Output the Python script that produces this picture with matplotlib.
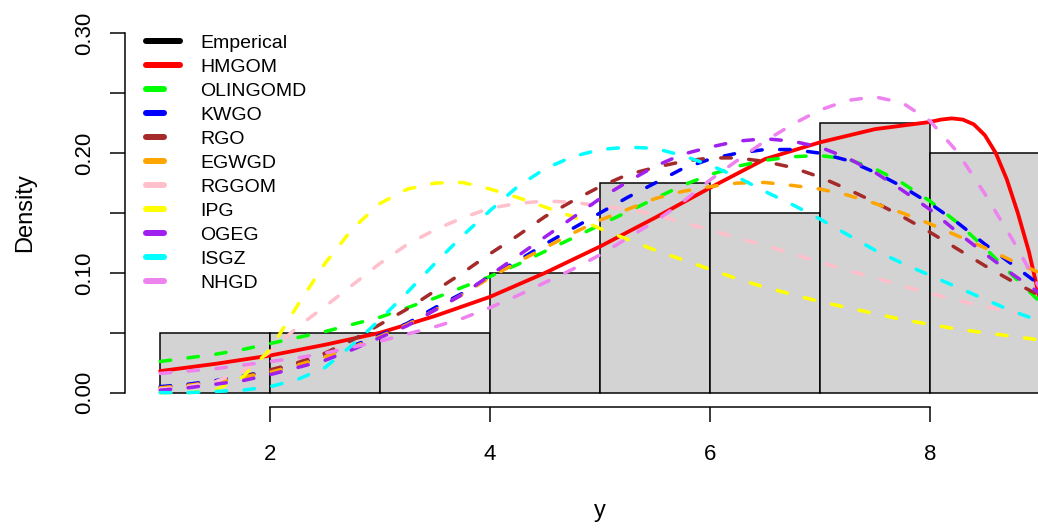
import matplotlib.pyplot as plt
from matplotlib.lines import Line2D

plt.rcParams['font.family'] = ['Liberation Sans', 'DejaVu Sans']

# histogram of y (density scale), unit-width bins
bin_left = [1, 2, 3, 4, 5, 6, 7, 8]
density = [0.05, 0.05, 0.05, 0.10, 0.175, 0.15, 0.225, 0.20]

# fitted densities evaluated on a common grid
xg = [1.0, 1.25, 1.5, 1.75, 2.0, 2.25, 2.5, 2.75, 3.0, 3.25, 3.5, 3.75, 4.0,
      4.25, 4.5, 4.75, 5.0, 5.25, 5.5, 5.75, 6.0, 6.25, 6.5, 6.75, 7.0,
      7.25, 7.5, 7.75, 8.0, 8.25, 8.5, 8.75, 9.0]

olingomd = [0.026, 0.029, 0.032, 0.036, 0.041, 0.046, 0.051, 0.057, 0.063,
            0.071, 0.079, 0.088, 0.097, 0.107, 0.118, 0.129, 0.140, 0.151,
            0.162, 0.173, 0.182, 0.189, 0.194, 0.197, 0.198, 0.195, 0.187,
            0.175, 0.160, 0.142, 0.121, 0.098, 0.076]
kwgo = [0.005, 0.007, 0.010, 0.014, 0.018, 0.024, 0.031, 0.039, 0.048, 0.058,
        0.071, 0.083, 0.097, 0.110, 0.124, 0.137, 0.150, 0.163, 0.175, 0.187,
        0.195, 0.200, 0.203, 0.203, 0.200, 0.194, 0.184, 0.172, 0.158, 0.142,
        0.124, 0.107, 0.090]
rgo = [0.004, 0.006, 0.009, 0.013, 0.019, 0.025, 0.033, 0.044, 0.057, 0.070,
       0.085, 0.100, 0.116, 0.131, 0.147, 0.160, 0.172, 0.182, 0.188, 0.193,
       0.196, 0.196, 0.193, 0.188, 0.180, 0.170, 0.159, 0.147, 0.134, 0.120,
       0.106, 0.093, 0.081]
egwgd = [0.004, 0.006, 0.009, 0.013, 0.017, 0.023, 0.030, 0.038, 0.047, 0.057,
         0.069, 0.082, 0.096, 0.109, 0.121, 0.133, 0.144, 0.153, 0.162, 0.168,
         0.172, 0.175, 0.1755, 0.173, 0.170, 0.165, 0.158, 0.150, 0.141,
         0.131, 0.121, 0.110, 0.100]
rggom = [0.003, 0.005, 0.009, 0.018, 0.034, 0.055, 0.072, 0.090, 0.108, 0.124,
         0.136, 0.146, 0.154, 0.158, 0.160, 0.159, 0.156, 0.153, 0.149, 0.142,
         0.136, 0.129, 0.123, 0.116, 0.109, 0.102, 0.096, 0.089, 0.083, 0.077,
         0.072, 0.067, 0.062]
ipg = [0.000, 0.000, 0.002, 0.013, 0.036, 0.073, 0.108, 0.137, 0.158, 0.170,
       0.175, 0.1755, 0.170, 0.163, 0.155, 0.147, 0.137, 0.128, 0.119, 0.111,
       0.103, 0.095, 0.088, 0.082, 0.076, 0.071, 0.066, 0.061, 0.057, 0.053,
       0.050, 0.047, 0.044]
ogeg = [0.002, 0.004, 0.007, 0.010, 0.015, 0.021, 0.027, 0.036, 0.046, 0.056,
        0.069, 0.082, 0.098, 0.114, 0.130, 0.146, 0.162, 0.176, 0.189, 0.199,
        0.205, 0.210, 0.212, 0.210, 0.205, 0.196, 0.184, 0.169, 0.153, 0.134,
        0.116, 0.099, 0.083]
isgz = [0.000, 0.000, 0.001, 0.002, 0.005, 0.011, 0.021, 0.040, 0.061, 0.084,
        0.108, 0.131, 0.152, 0.172, 0.187, 0.197, 0.203, 0.205, 0.204, 0.198,
        0.190, 0.180, 0.168, 0.157, 0.145, 0.132, 0.119, 0.108, 0.098, 0.088,
        0.078, 0.068, 0.060]
nhgd = [0.016, 0.018, 0.020, 0.023, 0.026, 0.029, 0.033, 0.038, 0.043, 0.049,
        0.055, 0.062, 0.071, 0.081, 0.092, 0.103, 0.115, 0.129, 0.143, 0.159,
        0.1775, 0.194, 0.210, 0.224, 0.236, 0.244, 0.247, 0.242, 0.227, 0.201,
        0.166, 0.128, 0.087]

# HMGOM needs a finer grid near its sharp drop
x_hmgom = [1.0, 1.5, 2.0, 2.5, 3.0, 3.5, 4.0, 4.5, 5.0, 5.5, 6.0, 6.5, 7.0,
           7.5, 7.75, 8.0, 8.1, 8.2, 8.3, 8.4, 8.5, 8.6, 8.7, 8.8, 8.9, 9.0]
hmgom = [0.018, 0.024, 0.031, 0.040, 0.050, 0.064, 0.080, 0.100, 0.122,
         0.146, 0.171, 0.195, 0.209, 0.220, 0.223, 0.226, 0.228, 0.229,
         0.228, 0.224, 0.215, 0.200, 0.178, 0.150, 0.118, 0.078]

labels = ["Emperical", "HMGOM", "OLINGOMD", "KWGO", "RGO", "EGWGD", "RGGOM",
          "IPG", "OGEG", "ISGZ", "NHGD"]
colors = ["black", "red", "#00FF00", "blue", "#A52A2A", "#FFA500", "#FFC0CB",
          "#FFFF00", "#A020F0", "#00FFFF", "#EE82EE"]
dashed = [olingomd, kwgo, rgo, egwgd, rggom, ipg, ogeg, isgz, nhgd]

px = 72 / 100  # points per pixel at dpi 100
lw = 3.5 * px
dash = (0, (3, 5))

fig = plt.figure(figsize=(10.38, 5.30), dpi=100)
ax = fig.add_axes([125 / 1038, 123 / 530, 950 / 1038, 388 / 530])

ax.bar(bin_left, density, width=1, align='edge', color='#D3D3D3',
       edgecolor='black', linewidth=1.5 * px, zorder=1)

ax.plot(x_hmgom, hmgom, color=colors[1], lw=3.8 * px, solid_capstyle='round',
        solid_joinstyle='round', zorder=2)
for yv, c in zip(dashed, colors[2:]):
    ax.plot(xg, yv, color=c, lw=lw, linestyle=dash, dash_capstyle='round',
            zorder=2)

ax.set_xlim(0.68, 9.32)
ax.set_ylim(-0.012, 0.312)
for s in ['top', 'right']:
    ax.spines[s].set_visible(False)
ax.spines['left'].set_bounds(0, 0.30)
ax.spines['bottom'].set_bounds(2, 8)
for s in ['left', 'bottom']:
    ax.spines[s].set_linewidth(1.5 * px)

ax.set_xticks([2, 4, 6, 8])
ax.set_yticks([0, 0.05, 0.10, 0.15, 0.20, 0.25, 0.30])
ax.set_yticklabels(["0.00", "", "0.10", "", "0.20", "", "0.30"],
                   rotation=90, va='center')
ax.tick_params(axis='both', length=15 * px, width=1.5 * px, labelsize=16,
               color='black')
ax.tick_params(axis='x', pad=22 * px)
ax.tick_params(axis='y', pad=15 * px)

fig.text(600 / 1038, 1 - 517 / 530, "y", ha='center', va='baseline',
         fontsize=17)
fig.text(31 / 1038, 1 - 213 / 530, "Density", rotation=90,
         rotation_mode='anchor', ha='center', va='baseline', fontsize=17)

handles = []
for i, c in enumerate(colors):
    if i < 2:
        handles.append(Line2D([], [], color=c, lw=6 * px,
                              solid_capstyle='round'))
    else:
        handles.append(Line2D([], [], color=c, lw=6 * px, linestyle=dash,
                              dash_capstyle='round'))
fig.legend(handles, labels, loc='upper left',
           bbox_to_anchor=(146 / 1038, 1 - 34 / 530), frameon=False,
           fontsize=14, handlelength=1.75, handletextpad=1.03,
           labelspacing=0.33, borderpad=0, borderaxespad=0)

fig.savefig("out.png", dpi=100)
